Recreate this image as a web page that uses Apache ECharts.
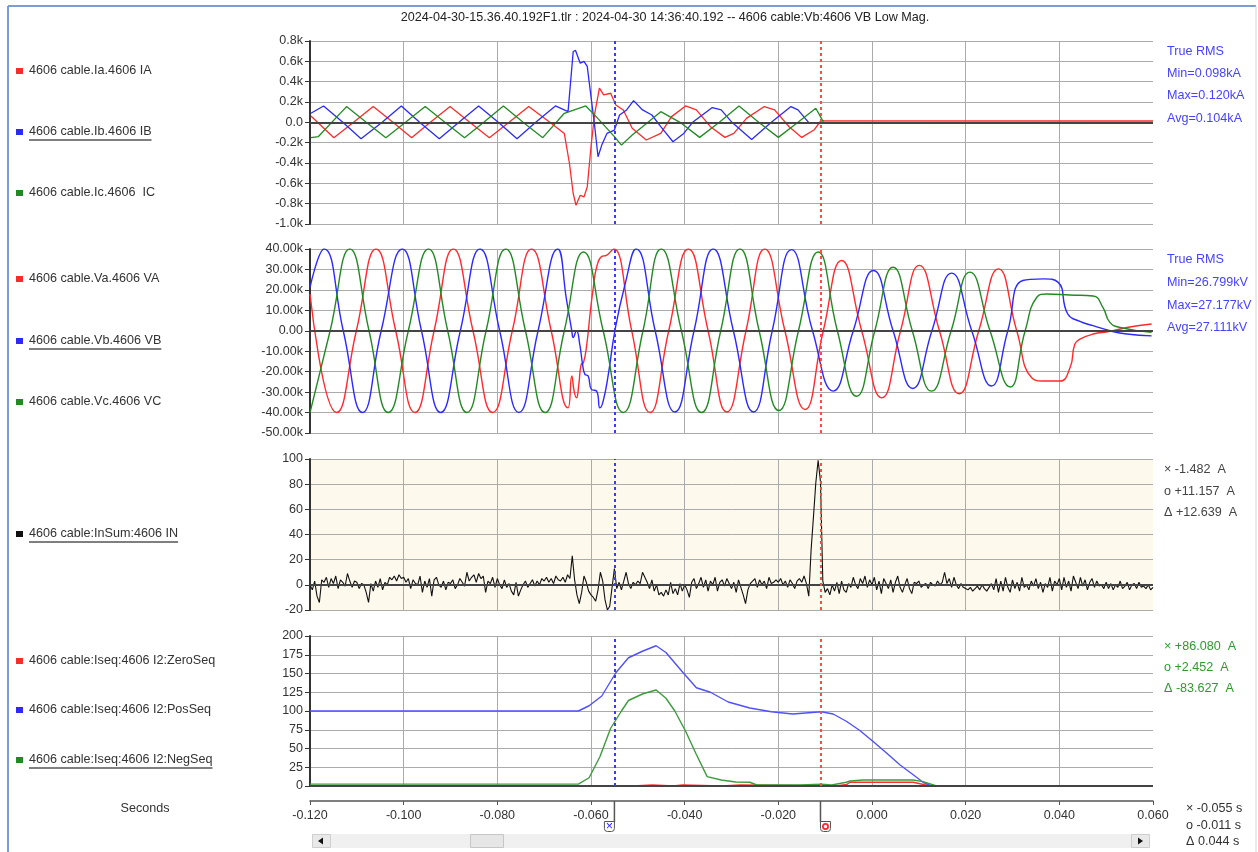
<!DOCTYPE html>
<html>
<head>
<meta charset="utf-8">
<title>4606 cable</title>
<script src="https://cdn.jsdelivr.net/npm/echarts@6/dist/echarts.min.js"></script>
<style>
  html, body { margin: 0; padding: 0; background: #fff; }
  #chart { width: 1258px; height: 852px; }
</style>
</head>
<body>
<div id="chart"></div>
<script>
// all times in ms
var iaData = [[-119.8, 62], [-114.9, -151], [-110.7, 0], [-106.5, 155], [-102.3, 0], [-98.3, -151], [-94.3, 0], [-90.1, 155],
  [-85.9, 0], [-81.7, -151], [-77.5, 0], [-73.3, 155], [-68.8, 0], [-65.7, -109], [-64.6, -405], [-63.8, -700], [-63.2, -816],
  [-62.3, -717], [-61.5, -734], [-60.8, -635], [-60.0, -240], [-59.2, 89], [-58.2, 336], [-57.3, 270], [-55.8, 286], [-54.7, 171],
  [-53.1, 122], [-51.2, -59], [-48.2, -174], [-45.1, -109], [-42.8, 56], [-39.8, 161], [-37.5, 122], [-34.5, -43], [-31.4, -148],
  [-29.5, -109], [-26.8, 39], [-23.0, 155], [-20.8, 122], [-17.7, -43], [-15.0, -148], [-12.4, -76], [-10.8, 23], [-10.2, 14], [60, 14]];
var ibData = [[-119.8, 89], [-117.1, 161], [-113.0, 0], [-109.1, -161], [-104.6, 0], [-100.5, 161], [-96.6, 0], [-92.4, -161],
  [-88.2, 0], [-84.0, 161], [-79.8, 0], [-75.8, -161], [-71.8, 0], [-67.6, 161], [-64.9, 105], [-63.8, 697], [-63.3, 707],
  [-62.3, 582], [-61.5, 599], [-60.8, 550], [-60.0, 253], [-59.2, -43], [-58.5, -339], [-57.7, -224], [-56.6, -109], [-55.0, -76],
  [-53.9, 72], [-52.4, 122], [-50.9, 214], [-49.0, 122], [-47.0, 72], [-45.1, -43], [-42.5, -191], [-40.2, -109], [-38.3, 0],
  [-34.1, 145], [-32.2, 122], [-29.9, 0], [-25.7, -168], [-21.5, 0], [-17.3, 155], [-15.8, 122], [-13.5, -3], [-10.8, -8], [60, -8]];
var icData = [[-119.8, -151], [-118.2, -140], [-112.2, 155], [-108.0, 0], [-103.8, -151], [-99.6, 0], [-95.4, 155], [-91.2, 0],
  [-87.0, -151], [-82.9, 0], [-78.7, 161], [-74.5, 0], [-70.3, -151], [-65.7, 89], [-61.1, 161], [-58.9, 56], [-55.0, -141],
  [-53.5, -224], [-51.2, -125], [-49.0, -43], [-45.1, 105], [-41.0, 0], [-36.8, -148], [-32.6, 0], [-28.4, 161], [-24.2, 0],
  [-20.0, -148], [-15.8, 0], [-12.0, 138], [-10.8, 39], [-10.4, 0], [60, 2]];

var vaData = [[-120.0, 18000], [-114.3, -40000], [-110.1, 0], [-105.9, 40000], [-101.7, 0], [-97.6, -40000], [-93.5, 0],
  [-89.4, 40000], [-85.2, 0], [-81.0, -40000], [-76.8, 0], [-72.7, 40000], [-68.5, 0], [-64.9, -37700], [-64.1, -22100],
  [-63.6, -29500], [-63.1, -32800], [-62.6, -26200], [-62.1, -16400], [-61.6, -15600], [-60.9, -6600], [-60.2, 8200],
  [-59.5, 21300], [-58.8, 31100], [-57.7, 36400], [-56.7, 36900], [-55.6, 39300], [-55.1, 40000], [-51.3, 0], [-47.4, -40000],
  [-43.4, 0], [-39.2, 40000], [-35.0, 0], [-31.0, -39700], [-26.9, 0], [-22.9, 40000], [-18.6, 0], [-14.3, -38500], [-10.4, 0],
  [-6.5, 34400], [-2.2, 0], [2.1, -32800], [6.1, 0], [10.1, 32000], [14.4, 0], [18.6, -30800], [22.8, 0], [27.0, 30300],
  [30.9, 0], [34.1, -23000], [36.9, -24600], [40.1, -24600], [42.3, -18000], [43.3, -6600], [44.4, -4100], [47.2, -1600],
  [50.8, -300], [54.4, 1600], [59.7, 3300]];
var vbData = [[-120.0, 21300], [-117.0, 40000], [-112.9, 0], [-108.8, -40000], [-104.8, 0], [-100.3, 40000], [-96.2, 0],
  [-92.1, -40000], [-87.9, 0], [-83.7, 40000], [-79.5, 0], [-75.4, -40000], [-71.3, 0], [-67.1, 40000], [-65.2, 14800],
  [-64.1, 0], [-63.8, -3300], [-63.1, 0], [-62.4, -6600], [-61.8, -16400], [-61.3, -21300], [-60.6, -22100], [-59.9, -28700],
  [-58.8, -29500], [-58.1, -37700], [-57.4, -34400], [-56.3, -21300], [-54.9, 0], [-52.7, 23000], [-50.4, 40000], [-46.3, 0],
  [-42.1, -39700], [-38.0, 0], [-33.9, 40000], [-29.6, 0], [-25.3, -39700], [-21.3, 0], [-17.2, 39700], [-12.7, 0],
  [-8.3, -29500], [-4.0, 0], [0.3, 29500], [4.5, 0], [8.7, -28200], [12.8, 0], [17.0, 28200], [21.3, 0], [25.5, -27000],
  [29.0, 0], [32.2, 24600], [36.6, 25400], [39.7, 23800], [41.8, 8200], [44.4, 4600], [47.2, 2500], [50.8, 0],
  [54.4, -1600], [59.7, -2500]];
var vcData = [[-120.0, -40000], [-115.7, 0], [-111.5, 40000], [-107.4, 0], [-103.3, -40000], [-99.0, 0], [-94.7, 40000],
  [-90.6, 0], [-86.5, -40000], [-82.4, 0], [-78.2, 40000], [-74.0, 0], [-69.8, -40000], [-65.7, 0], [-61.6, 38500],
  [-57.4, 0], [-53.1, -40000], [-48.9, 0], [-45.0, 40000], [-40.7, 0], [-36.4, -40000], [-32.3, 0], [-28.2, 40000],
  [-24.1, 0], [-19.9, -39000], [-15.7, 0], [-11.5, 38500], [-7.4, 0], [-3.3, -32000], [0.6, 0], [4.5, 31100], [8.6, 0],
  [12.7, -29500], [16.9, 0], [20.9, 28700], [25.2, 0], [29.5, -27500], [32.7, 0], [35.2, 16400], [37.3, 18000],
  [42.3, 17500], [47.2, 17000], [49.3, 11500], [50.8, 4100], [53.0, 1600], [59.7, -800]];

// residual current, one sample every 0.5 ms from -120 ms
var inStart = -120;
var inStep = 0.5;
var inValues = [
  0, -4, 3, -9, -14, 4, 2, 6, -2, 5, 1, 7, -3, 4, 2, -1, 9, 3, -2, 3,
  2, -3, 1, 0, -6, -14, 1, -5, 3, -2, 5, -4, 2, 0, 6, 4, 7, 3, 8, 5,
  6, 2, 5, -3, 4, 1, 0, 7, -6, 3, -2, 5, -9, 4, 6, 0, -2, 3, -4, 2,
  1, 4, -3, 0, 5, 2, -1, 10, 3, 6, 8, 2, 9, 5, 7, -6, 3, 1, 6, -2,
  5, 0, -3, 4, -2, 1, -5, -8, 2, -9, -4, 0, 3, -2, 1, 4, -1, 3, 0, 5,
  3, 6, 2, 5, 1, 7, 4, 3, 6, 2, 8, 5, 23, 4, -8, -15, -6, 7, 2, -5,
  -8, -10, -13, -4, 10, 3, -12, -20, -17, -2, 13, -3, 2, -4, 3, 10, 1, -3, 2, 0,
  3, 1, 10, 6, 2, -3, 4, -5, 0, -8, -6, -9, -4, -8, 2, -7, -3, -8, 1, -5,
  0, -4, -10, 2, 5, -3, 1, 6, -2, 4, -5, 3, 0, 6, -5, 2, 4, -1, 5, 1,
  -3, 2, -6, 4, -2, -8, -15, -4, 1, 3, 5, -2, 4, 0, 3, -3, 6, 1, 2, 4,
  2, 5, 0, 3, -2, 4, 1, -3, 3, 5, 2, 7, 1, -9, 28, 54, 81, 99, 82, 3,
  -6, -3, -8, 0, -5, 2, -7, 3, -4, -6, 1, -2, 6, 0, -3, 5, 1, 7, -2, 4,
  0, 6, -4, 3, -7, 5, 1, -3, 4, -6, 2, 7, -2, -6, 0, 5, -3, -7, 2, 1,
  3, -2, 0, 1, -3, 2, 0, -1, 3, 0, 2, 10, 1, 5, -2, 6, 0, -3, 1, -2,
  -3, -4, -2, -5, -3, -1, -4, 0, -3, -5, -2, 1, -4, 5, -6, 3, -5, 6, -2, -6,
  4, -3, 2, -5, 6, -2, 0, -4, 3, -1, 5, -3, 2, -6, 1, -2, 6, -5, 3, 0,
  5, -4, 6, -2, 3, -5, 7, 2, -3, 6, -1, 4, -4, 2, 5, -2, 3, -1, 0, -3,
  2, -3, 1, -4, 0, -2, 3, -3, -1, 2, -4, 0, 1, -3, 2, -2, -1, -3, 0, -4,
  -2];

var zeroSeqData = [[-120, 0], [-51, 0], [-50.9, 1.5], [-46.9, 1.5], [-46.8, 0], [-42.4, 0], [-42.3, 1.5], [-40.5, 1.5],
  [-40.4, 0], [-32.2, 0], [-32.1, 1.5], [-28.0, 1.5], [-27.9, 0], [-7.7, 0], [-5.4, 2], [-4.7, 5], [8.8, 5], [12.4, 0], [60, 0]];
var posSeqData = [[-120, 100], [-62.7, 100], [-60.4, 107], [-57.7, 120], [-54.7, 151], [-52.0, 171], [-48.9, 180],
  [-46.1, 187], [-44.0, 178], [-40.6, 153], [-37.5, 131], [-34.5, 125], [-30.7, 112], [-26.1, 104], [-21.5, 99],
  [-16.9, 96], [-10.8, 99], [-8.3, 96], [-5.4, 86], [-2.6, 74], [0.3, 59], [3.1, 44], [6.0, 28], [8.8, 15], [10.9, 5],
  [12.7, 0], [60, 0]];
var negSeqData = [[-120, 2.5], [-62.7, 2.5], [-60.4, 11], [-58.1, 39], [-55.8, 77], [-53.5, 100], [-52.0, 114],
  [-48.9, 123], [-46.1, 128], [-44.0, 117], [-42.1, 100], [-39.8, 73], [-37.5, 42], [-35.2, 12.5], [-32.2, 8],
  [-29.1, 5.4], [-26.1, 5], [-24.6, 1.3], [-15.4, 1.3], [-10.8, 2.5], [-8.6, 1.3], [-5.5, 5], [-4.7, 6.7], [-1.9, 8],
  [8.8, 8], [10.9, 5.8], [13.8, 0], [60, 0]];

var cursorX = -55;
var cursorO = -11;

var title = '2024-04-30-15.36.40.192F1.tlr : 2024-04-30 14:36:40.192 -- 4606 cable:Vb:4606 VB Low Mag.';
var channelNames = ['4606 cable.Ia.4606 IA', '4606 cable.Ib.4606 IB', '4606 cable.Ic.4606  IC',
  '4606 cable.Va.4606 VA', '4606 cable.Vb.4606 VB', '4606 cable.Vc.4606 VC',
  '4606 cable:InSum:4606 IN',
  '4606 cable:Iseq:4606 I2:ZeroSeq', '4606 cable:Iseq:4606 I2:PosSeq', '4606 cable:Iseq:4606 I2:NegSeq'];
var rmsCurrent = ['True RMS', 'Min=0.098kA', 'Max=0.120kA', 'Avg=0.104kA'];
var rmsVoltage = ['True RMS', 'Min=26.799kV', 'Max=27.177kV', 'Avg=27.111kV'];
var inReadings = ['\u00d7 -1.482  A', 'o +11.157  A', '\u0394 +12.639  A'];
var seqReadings = ['\u00d7 +86.080  A', 'o +2.452  A', '\u0394 -83.627  A'];
var timeReadings = ['\u00d7 -0.055 s', 'o -0.011 s', '\u0394 0.044 s'];

var RED = '#ff2a2a', BLUE = '#2a2aff', GREEN = '#228a22';
var FONT = '12.6px "Liberation Sans", Arial, sans-serif';

var chart = echarts.init(document.getElementById('chart'));

function xAx(i, last) {
  return {
    type: 'value', gridIndex: i, min: -120, max: 60, interval: 20,
    offset: last ? 15 : 0,
    axisLine: {show: !!last, onZero: false, lineStyle: {color: '#555', width: 1.5}},
    axisTick: {show: !!last, length: 4, lineStyle: {color: '#555'}},
    axisLabel: {show: !!last, color: '#333', fontSize: 12.5, fontFamily: 'Liberation Sans', margin: 8,
      formatter: function (v) { return (v / 1000).toFixed(3); }},
    splitLine: {show: true, showMaxLine: false, lineStyle: {color: '#ababab', width: 1}}
  };
}

function yAx(i, min, max, step, fmt) {
  return {
    type: 'value', gridIndex: i, min: min, max: max, interval: step,
    axisLine: {show: true, onZero: false, lineStyle: {color: '#333', width: 2}},
    axisTick: {show: true, length: 5, lineStyle: {color: '#333'}},
    axisLabel: {color: '#333', fontSize: 12.5, fontFamily: 'Liberation Sans', margin: 7, formatter: fmt},
    splitLine: {show: true, lineStyle: {color: '#ababab', width: 1}}
  };
}

function marks() {
  return {
    silent: true, symbol: 'none', animation: false, label: {show: false},
    data: [
      {yAxis: 0, lineStyle: {color: '#444', width: 2, type: 'solid'}},
      {xAxis: cursorX, lineStyle: {color: '#3a3aff', width: 2, type: [3, 3]}},
      {xAxis: cursorO, lineStyle: {color: '#ff4a4a', width: 2, type: [3, 3]}}
    ]
  };
}

function ln(name, data, color, idx, width, smooth) {
  return {
    name: name, type: 'line', xAxisIndex: idx, yAxisIndex: idx, data: data,
    symbol: 'none', smooth: smooth || false, silent: true, animation: false,
    lineStyle: {color: color, width: width || 1.3}, itemStyle: {color: color}
  };
}

var gridBase = {left: 310, width: 843, outerBoundsMode: 'none'};
var option = {
  animation: false,
  grid: [
    Object.assign({top: 41, height: 183}, gridBase),
    Object.assign({top: 249, height: 184}, gridBase),
    Object.assign({top: 459, height: 151, show: true, backgroundColor: '#fdf9ec', borderWidth: 0}, gridBase),
    Object.assign({top: 636, height: 150}, gridBase)
  ],
  xAxis: [xAx(0), xAx(1), xAx(2), xAx(3, true)],
  yAxis: [
    yAx(0, -1000, 800, 200, function (v) { return v === 0 ? '0.0' : (v / 1000).toFixed(1) + 'k'; }),
    yAx(1, -50000, 40000, 10000, function (v) { return v === 0 ? '0.00' : (v / 1000).toFixed(2) + 'k'; }),
    yAx(2, -20, 100, 20, function (v) { return String(v); }),
    yAx(3, 0, 200, 25, function (v) { return String(v); })
  ],
  series: [
    Object.assign(ln('IA', iaData, RED, 0), {markLine: marks()}),
    ln('IB', ibData, BLUE, 0),
    ln('IC', icData, GREEN, 0),
    Object.assign(ln('VA', vaData, RED, 1, 1.4, 0.5), {markLine: marks()}),
    ln('VB', vbData, BLUE, 1, 1.4, 0.5),
    ln('VC', vcData, GREEN, 1, 1.4, 0.5),
    Object.assign(ln('IN', inValues.map(function (v, i) { return [inStart + i * inStep, v]; }), '#111', 2, 1.1),
      {markLine: marks()}),
    Object.assign(ln('ZeroSeq', zeroSeqData, '#ff3030', 3, 1.5), {markLine: marks()}),
    ln('PosSeq', posSeqData, '#5050ff', 3, 1.4),
    ln('NegSeq', negSeqData, '#3c9c3c', 3, 1.4)
  ]
};
chart.setOption(option);

// ---- decorations around the plot
var measure = document.createElement('canvas').getContext('2d');
measure.font = FONT;

function txt(x, y, s, color, align) {
  return {type: 'text', x: x, y: y, z: 100, silent: true,
    style: {text: s, fill: color || '#333', font: FONT, textAlign: align || 'left', align: align || 'left',
      textVerticalAlign: 'middle', verticalAlign: 'middle'}};
}
function line(x1, y1, x2, y2, color, w) {
  return {type: 'line', z: 100, silent: true, shape: {x1: x1, y1: y1, x2: x2, y2: y2},
    style: {stroke: color, lineWidth: w || 1}};
}
function rect(x, y, w, h, fill, stroke, r) {
  return {type: 'rect', z: 100, silent: true, shape: {x: x, y: y, width: w, height: h, r: r || 0},
    style: {fill: fill, stroke: stroke || null, lineWidth: 1}};
}

var g = [];
g.push(line(8, 6, 1256, 6, '#7b9bd9', 2));
g.push(line(8, 6, 8, 852, '#7b9bd9', 2));
g.push(line(1256, 6, 1256, 852, '#d6d6d6', 1));
g.push(txt(665, 18, title, '#222', 'center'));

var legendY = [71, 132, 193, 279, 341, 402, 534, 661, 710, 760];
var legendCol = [RED, BLUE, GREEN, RED, BLUE, GREEN, '#111', RED, BLUE, GREEN];
var underlined = [1, 4, 6, 9];
channelNames.forEach(function (name, i) {
  var y = legendY[i];
  g.push(rect(16, y - 3, 7, 6, legendCol[i]));
  g.push(txt(29, y, name, '#333'));
  if (underlined.indexOf(i) >= 0) {
    g.push(line(29, y + 8, 29 + measure.measureText(name).width, y + 8, '#555', 1.5));
  }
});
g.push(txt(145, 809, 'Seconds', '#333', 'center'));

var rmsY1 = [52, 74, 96, 119], rmsY2 = [260, 283, 306, 328];
rmsCurrent.forEach(function (s, i) { g.push(txt(1167, rmsY1[i], s, '#4444ff')); });
rmsVoltage.forEach(function (s, i) { g.push(txt(1167, rmsY2[i], s, '#4444ff')); });
var inY = [470, 492, 513], seqY = [647, 668, 689], tY = [809, 826, 842];
inReadings.forEach(function (s, i) { g.push(txt(1164, inY[i], s, '#444')); });
seqReadings.forEach(function (s, i) { g.push(txt(1164, seqY[i], s, '#2e9a2e')); });
timeReadings.forEach(function (s, i) { g.push(txt(1186, tY[i], s, '#333')); });

// scroll bar
g.push(rect(312, 834, 838, 14, '#f0f0f0'));
g.push(rect(312.5, 834.5, 18, 13, '#e9e9e9', '#cfcfcf'));
g.push({type: 'polygon', z: 101, silent: true, shape: {points: [[318, 841], [323, 837.5], [323, 844.5]]}, style: {fill: '#111'}});
g.push(rect(470.5, 834.5, 33, 13, '#e6e6e6', '#c6c6c6'));
g.push(rect(1131.5, 834.5, 18, 13, '#e9e9e9', '#cfcfcf'));
g.push({type: 'polygon', z: 101, silent: true, shape: {points: [[1143, 841], [1138, 837.5], [1138, 844.5]]}, style: {fill: '#111'}});

// cursor handles on the time axis
var axisY = 801;
var px = chart.convertToPixel({xAxisIndex: 3}, cursorX);
var po = chart.convertToPixel({xAxisIndex: 3}, cursorO);
g.push(line(px, axisY, px, 822, '#555', 1.5));
g.push(rect(px - 10, 821.5, 10, 10, '#fff', '#555', [0, 0, 3, 3]));
g.push(txt(px - 5, 827, '\u00d7', '#2a2aff', 'center'));
g.push(line(po, axisY, po, 822, '#555', 1.5));
g.push(rect(po, 821.5, 10, 10, '#fff', '#555', [0, 0, 3, 3]));
g.push({type: 'circle', z: 101, silent: true, shape: {cx: po + 5, cy: 826.5, r: 2.6},
  style: {fill: 'none', stroke: '#ff2a2a', lineWidth: 1.8}});

chart.setOption({graphic: g});
</script>
</body>
</html>
